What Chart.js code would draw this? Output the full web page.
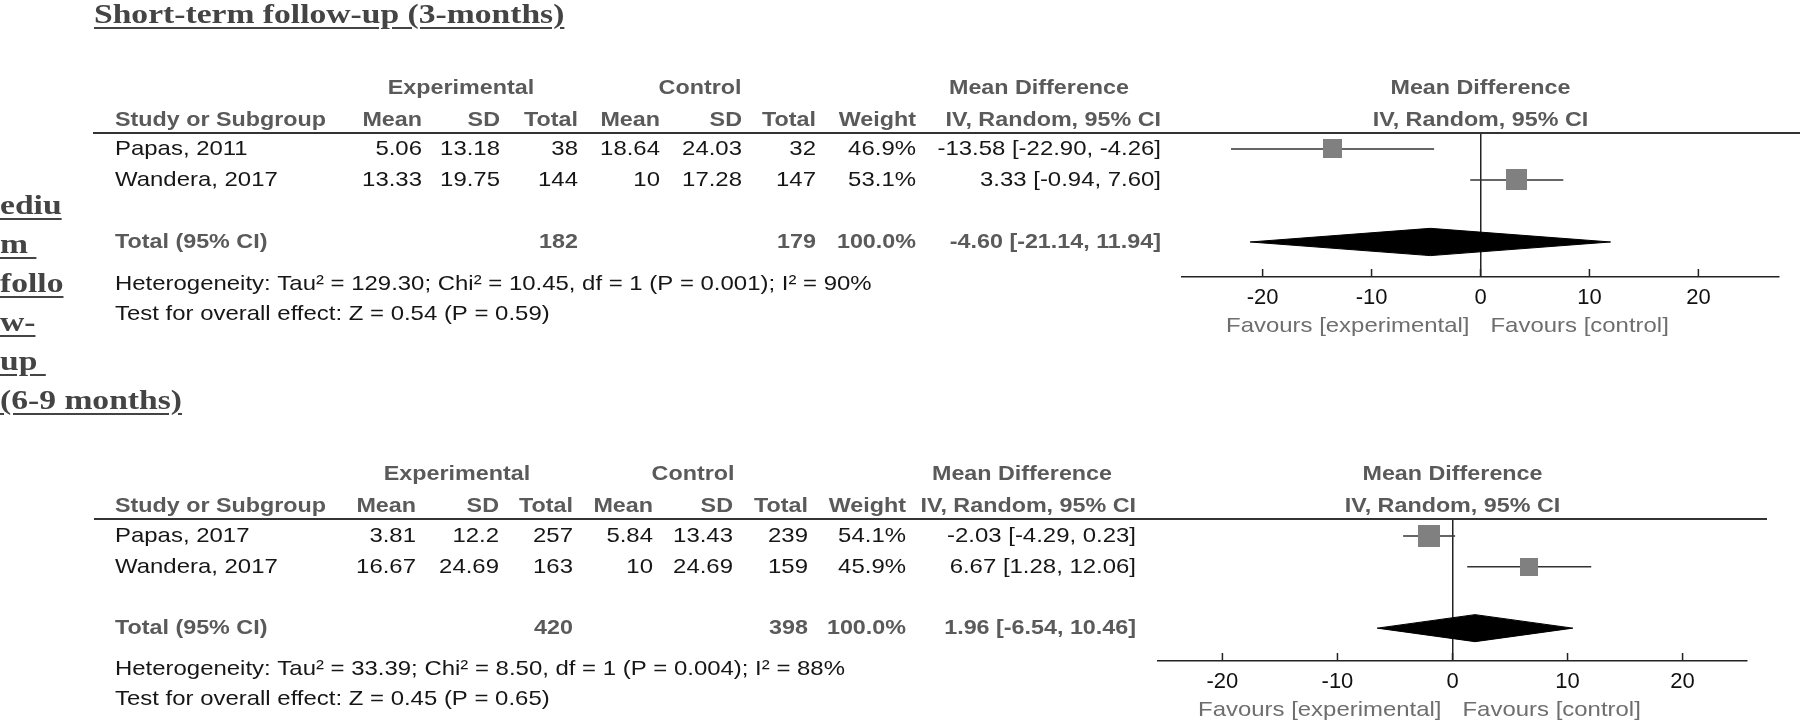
<!DOCTYPE html>
<html>
<head>
<meta charset="utf-8">
<script src="https://cdn.jsdelivr.net/npm/chart.js@4.4.0/dist/chart.umd.min.js"></script>
<style>
  html, body { margin: 0; padding: 0; background: #fff; }
  #page { position: relative; width: 1800px; height: 724px; overflow: hidden; }
  canvas { position: absolute; left: 0; }
  #shortCanvas { top: 0; }
  #mediumCanvas { top: 362px; }
  .heading {
    position: absolute;
    font-family: "Liberation Serif", "Times New Roman", serif;
    font-weight: bold;
    font-size: 28px;
    color: #444;
    white-space: nowrap;
    transform: scaleX(1.2);
    transform-origin: 0 0;
  }
  .heading span {
    text-decoration: underline;
    text-decoration-thickness: 2px;
    text-underline-offset: 4px;
    white-space: pre;
  }
  .heading div { height: 39px; }
</style>
</head>
<body>
<div id="page">
  <canvas id="shortCanvas" width="1800" height="362"></canvas>
  <canvas id="mediumCanvas" width="1800" height="362"></canvas>
  <div class="heading" style="left:94px; top:0px; line-height:28px;"><span>Short-term follow-up (3-months)</span></div>
  <div class="heading" style="left:0px; top:185px; line-height:39px;"><div><span>ediu</span></div><div><span>m </span></div><div><span>follo</span></div><div><span>w-</span></div><div><span>up </span></div><div><span>(6-9 months)</span></div></div>
</div>
<script>
// Short-term follow-up (3 months)
const shortStudies = ['Papas, 2011', 'Wandera, 2017'];
const shortExpMean = [5.06, 13.33];
const shortExpSD = [13.18, 19.75];
const shortExpTotal = [38, 144];
const shortCtrlMean = [18.64, 10];
const shortCtrlSD = [24.03, 17.28];
const shortCtrlTotal = [32, 147];
const shortWeight = [46.9, 53.1];
const shortMD = [-13.58, 3.33];
const shortLower = [-22.90, -0.94];
const shortUpper = [-4.26, 7.60];
const shortPooled = [-4.60, -21.14, 11.94];     // estimate, lower, upper
const shortTotals = [182, 179];                 // experimental, control
const shortHet = [129.30, 10.45, 1, 0.001, 90]; // Tau², Chi², df, P, I²
const shortEffect = [0.54, 0.59];               // Z, P

// Medium follow-up (6-9 months)
const medStudies = ['Papas, 2017', 'Wandera, 2017'];
const medExpMean = [3.81, 16.67];
const medExpSD = [12.2, 24.69];
const medExpTotal = [257, 163];
const medCtrlMean = [5.84, 10];
const medCtrlSD = [13.43, 24.69];
const medCtrlTotal = [239, 159];
const medWeight = [54.1, 45.9];
const medMD = [-2.03, 6.67];
const medLower = [-4.29, 1.28];
const medUpper = [0.23, 12.06];
const medPooled = [1.96, -6.54, 10.46];
const medTotals = [420, 398];
const medHet = [33.39, 8.50, 1, 0.004, 88];
const medEffect = [0.45, 0.65];

const xTicks = [-20, -10, 0, 10, 20];

const FAMILY = '"Liberation Sans", Arial, sans-serif';
const FONT = '21px ' + FAMILY;
const BOLD = 'bold 21px ' + FAMILY;
const SX = 1.14;       // the source picture is stretched sideways
const SX_BOLD = 1.11;
const INK = '#161616';
const HEAD = '#5a5a5a';
const FAV = '#6e6e6e';
const TOTAL_ROW = 3;
const DIAMOND_HALF = 0.44;

function text(ctx, s, x, y, align, bold, color) {
    ctx.save();
    ctx.font = bold ? BOLD : FONT;
    ctx.fillStyle = color;
    ctx.textAlign = align;
    ctx.textBaseline = 'middle';
    ctx.translate(x, y);
    ctx.scale(bold ? SX_BOLD : SX, 1);
    ctx.fillText(s, 0, 0);
    ctx.restore();
}

function ci(est, lo, hi) {
    return est.toFixed(2) + ' [' + lo.toFixed(2) + ', ' + hi.toFixed(2) + ']';
}

// gray weight box used as the point style of each study
function weightBox(w) {
    const side = Math.round(w * 0.4);
    const c = document.createElement('canvas');
    c.width = side;
    c.height = side;
    const g = c.getContext('2d');
    g.fillStyle = '#808080';
    g.fillRect(0, 0, side, side);
    return c;
}

// Draws the table columns, rule, tick marks and captions around the plot.
function tablePlugin(p) {
    return {
        id: 'forestTable',
        afterDraw(chart) {
            const { ctx, chartArea: a, scales: { x, y } } = chart;
            const c = p.cols;
            ctx.save();

            ctx.strokeStyle = '#333';
            ctx.lineWidth = 2;
            ctx.beginPath();
            ctx.moveTo(c.ruleLeft, a.top);
            ctx.lineTo(c.ruleRight, a.top);
            ctx.stroke();

            ctx.strokeStyle = '#222';
            ctx.lineWidth = 1.5;
            x.ticks.forEach(t => {
                const px = x.getPixelForValue(t.value);
                ctx.beginPath();
                ctx.moveTo(px, a.bottom);
                ctx.lineTo(px, a.bottom - 8);
                ctx.stroke();
            });

            const h1 = a.top - 45;
            const h2 = a.top - 13;
            const zero = x.getPixelForValue(0);

            text(ctx, 'Experimental', c.exp, h1, 'center', true, HEAD);
            text(ctx, 'Control', c.ctl, h1, 'center', true, HEAD);
            text(ctx, 'Mean Difference', c.md, h1, 'center', true, HEAD);
            text(ctx, 'Mean Difference', zero, h1, 'center', true, HEAD);

            text(ctx, 'Study or Subgroup', c.study, h2, 'left', true, HEAD);
            text(ctx, 'Mean', c.expMean, h2, 'right', true, HEAD);
            text(ctx, 'SD', c.expSD, h2, 'right', true, HEAD);
            text(ctx, 'Total', c.expN, h2, 'right', true, HEAD);
            text(ctx, 'Mean', c.ctlMean, h2, 'right', true, HEAD);
            text(ctx, 'SD', c.ctlSD, h2, 'right', true, HEAD);
            text(ctx, 'Total', c.ctlN, h2, 'right', true, HEAD);
            text(ctx, 'Weight', c.weight, h2, 'right', true, HEAD);
            text(ctx, 'IV, Random, 95% CI', c.ci, h2, 'right', true, HEAD);
            text(ctx, 'IV, Random, 95% CI', zero, h2, 'center', true, HEAD);

            p.studies.forEach((s, i) => {
                const py = y.getPixelForValue(i);
                text(ctx, s, c.study, py, 'left', false, INK);
                text(ctx, String(p.expMean[i]), c.expMean, py, 'right', false, INK);
                text(ctx, String(p.expSD[i]), c.expSD, py, 'right', false, INK);
                text(ctx, String(p.expTotal[i]), c.expN, py, 'right', false, INK);
                text(ctx, String(p.ctrlMean[i]), c.ctlMean, py, 'right', false, INK);
                text(ctx, String(p.ctrlSD[i]), c.ctlSD, py, 'right', false, INK);
                text(ctx, String(p.ctrlTotal[i]), c.ctlN, py, 'right', false, INK);
                text(ctx, p.weight[i].toFixed(1) + '%', c.weight, py, 'right', false, INK);
                text(ctx, ci(p.md[i], p.lower[i], p.upper[i]), c.ci, py, 'right', false, INK);
            });

            const ty = y.getPixelForValue(TOTAL_ROW);
            const wsum = p.weight.reduce((s, v) => s + v, 0);
            text(ctx, 'Total (95% CI)', c.study, ty, 'left', true, HEAD);
            text(ctx, String(p.totals[0]), c.expN, ty, 'right', true, HEAD);
            text(ctx, String(p.totals[1]), c.ctlN, ty, 'right', true, HEAD);
            text(ctx, wsum.toFixed(1) + '%', c.weight, ty, 'right', true, HEAD);
            text(ctx, ci(p.pooled[0], p.pooled[1], p.pooled[2]), c.ci, ty, 'right', true, HEAD);

            const h = p.het;
            text(ctx, 'Heterogeneity: Tau\u00b2 = ' + h[0].toFixed(2) + '; Chi\u00b2 = ' + h[1].toFixed(2) +
                ', df = ' + h[2] + ' (P = ' + h[3].toFixed(3) + '); I\u00b2 = ' + h[4] + '%',
                c.study, y.getPixelForValue(4.35), 'left', false, INK);
            text(ctx, 'Test for overall effect: Z = ' + p.effect[0].toFixed(2) + ' (P = ' + p.effect[1].toFixed(2) + ')',
                c.study, y.getPixelForValue(5.33), 'left', false, INK);

            text(ctx, 'Favours [experimental]', zero - 11, a.bottom + 49, 'right', false, FAV);
            text(ctx, 'Favours [control]', zero + 10, a.bottom + 49, 'left', false, FAV);

            ctx.restore();
        }
    };
}

function forestChart(canvasId, p) {
    const ciLines = p.studies.map((s, i) => ({
        label: s,
        data: [{ x: p.lower[i], y: i }, { x: p.upper[i], y: i }],
        borderColor: '#333',
        borderWidth: 1.5,
        pointRadius: 0,
        order: 2
    }));

    const boxes = {
        label: 'Studies',
        data: p.md.map((m, i) => ({ x: m, y: i })),
        showLine: false,
        pointStyle: p.weight.map(weightBox),
        pointRadius: 8,
        order: 1
    };

    const [est, lo, hi] = p.pooled;
    const diamond = {
        label: 'Total',
        data: [
            { x: lo, y: TOTAL_ROW },
            { x: est, y: TOTAL_ROW - DIAMOND_HALF },
            { x: hi, y: TOTAL_ROW },
            { x: est, y: TOTAL_ROW + DIAMOND_HALF },
            { x: lo, y: TOTAL_ROW }
        ],
        borderColor: '#000',
        backgroundColor: '#000',
        borderWidth: 1,
        fill: 'shape',
        tension: 0,
        pointRadius: 0,
        order: 1
    };

    return new Chart(document.getElementById(canvasId), {
        type: 'line',
        data: { datasets: [boxes, ...ciLines, diamond] },
        options: {
            responsive: false,
            animation: false,
            events: [],
            layout: { padding: p.padding },
            plugins: { legend: { display: false }, tooltip: { enabled: false } },
            scales: {
                x: {
                    type: 'linear',
                    min: -p.span,
                    max: p.span,
                    afterBuildTicks: s => { s.ticks = xTicks.map(v => ({ value: v })); },
                    afterFit: s => { s.height = 30; },
                    border: { display: true, color: '#222', width: 1.5 },
                    grid: {
                        drawTicks: false,
                        lineWidth: 1.5,
                        color: c => (c.tick && c.tick.value === 0) ? '#222' : 'rgba(0,0,0,0)'
                    },
                    ticks: {
                        padding: 8,
                        color: '#111',
                        autoSkip: false,
                        maxRotation: 0,
                        font: { family: FAMILY, size: 22 }
                    }
                },
                y: { type: 'linear', display: false, reverse: true, min: p.yRange[0], max: p.yRange[1] }
            }
        },
        plugins: [tablePlugin(p)]
    });
}

forestChart('shortCanvas', {
    studies: shortStudies, expMean: shortExpMean, expSD: shortExpSD, expTotal: shortExpTotal,
    ctrlMean: shortCtrlMean, ctrlSD: shortCtrlSD, ctrlTotal: shortCtrlTotal, weight: shortWeight,
    md: shortMD, lower: shortLower, upper: shortUpper, pooled: shortPooled, totals: shortTotals,
    het: shortHet, effect: shortEffect,
    span: 27.4,
    yRange: [-0.516, 4.13],
    padding: { left: 1182, right: 21, top: 133, bottom: 55 },
    cols: { study: 115, expMean: 422, expSD: 500, expN: 578, ctlMean: 660, ctlSD: 742, ctlN: 816,
            weight: 916, ci: 1161, exp: 461, ctl: 700, md: 1039, ruleLeft: 93, ruleRight: 1800 }
});

forestChart('mediumCanvas', {
    studies: medStudies, expMean: medExpMean, expSD: medExpSD, expTotal: medExpTotal,
    ctrlMean: medCtrlMean, ctrlSD: medCtrlSD, ctrlTotal: medCtrlTotal, weight: medWeight,
    md: medMD, lower: medLower, upper: medUpper, pooled: medPooled, totals: medTotals,
    het: medHet, effect: medEffect,
    span: 25.6,
    yRange: [-0.555, 4.07],
    padding: { left: 1158, right: 53, top: 157, bottom: 33 },
    cols: { study: 115, expMean: 416, expSD: 499, expN: 573, ctlMean: 653, ctlSD: 733, ctlN: 808,
            weight: 906, ci: 1136, exp: 457, ctl: 693, md: 1022, ruleLeft: 94, ruleRight: 1767 }
});
</script>
</body>
</html>
